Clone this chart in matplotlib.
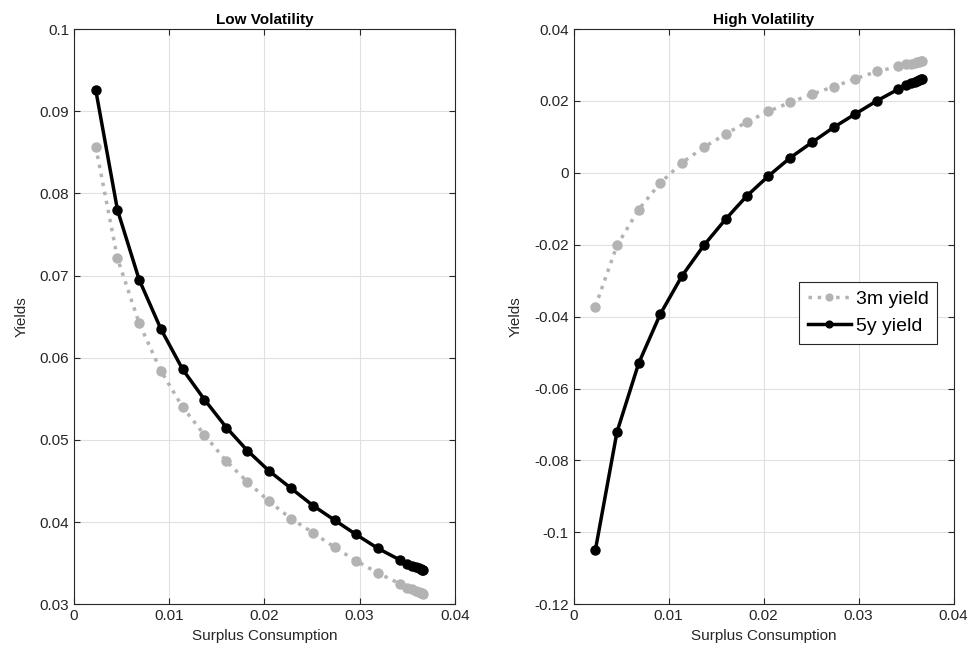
import matplotlib
matplotlib.use("Agg")
import matplotlib.pyplot as plt

plt.rcParams["font.family"] = ["Liberation Sans", "DejaVu Sans"]

# surplus consumption grid
surplus = [0.00228, 0.00456, 0.00684, 0.00912, 0.0114, 0.0137, 0.0160, 0.0182,
           0.0205, 0.0228, 0.0251, 0.0274, 0.0296, 0.0319, 0.0342,
           0.0350, 0.0355, 0.0359, 0.0362, 0.0364, 0.0366, 0.0367]

# low volatility
low_3m = [0.0857, 0.0721, 0.0642, 0.0584, 0.0540, 0.0506, 0.0474, 0.0449,
          0.0425, 0.0404, 0.0387, 0.0369, 0.0353, 0.0338, 0.0325,
          0.0320, 0.0318, 0.0316, 0.0315, 0.0314, 0.0313, 0.0312]
low_5y = [0.0926, 0.0780, 0.0695, 0.0635, 0.0586, 0.0549, 0.0515, 0.0487,
          0.0462, 0.0441, 0.0420, 0.0402, 0.0385, 0.0368, 0.0354,
          0.0349, 0.0347, 0.0345, 0.0344, 0.0343, 0.0342, 0.0341]

# high volatility
high_3m = [-0.0372, -0.0202, -0.0102, -0.0028, 0.0028, 0.0071, 0.0108, 0.0141,
           0.0171, 0.0196, 0.0219, 0.0240, 0.0261, 0.0282, 0.0296,
           0.0302, 0.0304, 0.0306, 0.0308, 0.0309, 0.0310, 0.0311]
high_5y = [-0.1050, -0.0721, -0.0530, -0.0393, -0.0287, -0.0202, -0.0129, -0.0065,
           -0.0009, 0.0042, 0.0085, 0.0127, 0.0163, 0.0200, 0.0233,
           0.0245, 0.0249, 0.0253, 0.0256, 0.0258, 0.0260, 0.0261]

xticks = [0, 0.01, 0.02, 0.03, 0.04]
xlabels = ["0", "0.01", "0.02", "0.03", "0.04"]
low_yticks = [0.03, 0.04, 0.05, 0.06, 0.07, 0.08, 0.09, 0.1]
low_ylabels = ["0.03", "0.04", "0.05", "0.06", "0.07", "0.08", "0.09", "0.1"]
high_yticks = [-0.12, -0.1, -0.08, -0.06, -0.04, -0.02, 0, 0.02, 0.04]
high_ylabels = ["-0.12", "-0.1", "-0.08", "-0.06", "-0.04", "-0.02", "0", "0.02", "0.04"]

GRAY = "#b3b3b3"
AXCOL = "#262626"

fig = plt.figure(figsize=(9.74, 6.61), dpi=100)
ax1 = fig.add_axes([0.076, 0.086, 0.391, 0.870])
ax2 = fig.add_axes([0.589, 0.086, 0.390, 0.870])


def style(ax):
    ax.grid(True, color="#e0e0e0", linewidth=0.8)
    ax.set_axisbelow(True)
    for s in ax.spines.values():
        s.set_color(AXCOL)
        s.set_linewidth(0.8)
    ax.tick_params(direction="in", top=True, right=True, colors=AXCOL,
                   labelsize=11, length=4, width=0.8)
    ax.set_xlim(0, 0.04)
    ax.set_xticks(xticks)
    ax.set_xticklabels(xlabels)
    ax.set_xlabel("Surplus Consumption", fontsize=11, color=AXCOL)
    ax.set_ylabel("Yields", fontsize=11, color=AXCOL, labelpad=8)


for ax, y3, y5 in [(ax1, low_3m, low_5y), (ax2, high_3m, high_5y)]:
    ax.plot(surplus, y3, linestyle=":", color=GRAY, linewidth=2.5,
            marker="o", markersize=6.5, label="3m yield")
    ax.plot(surplus, y5, linestyle="-", color="black", linewidth=2.5,
            marker="o", markersize=6.5, label="5y yield")
    style(ax)

ax1.set_ylim(0.03, 0.1)
ax1.set_yticks(low_yticks)
ax1.set_yticklabels(low_ylabels)
ax1.set_title("Low Volatility", fontsize=11, fontweight="bold", pad=4)

ax2.set_ylim(-0.12, 0.04)
ax2.set_yticks(high_yticks)
ax2.set_yticklabels(high_ylabels)
ax2.set_title("High Volatility", fontsize=11, fontweight="bold", pad=4)

leg = ax2.legend(loc="upper right", bbox_to_anchor=(0.957, 0.561), fontsize=14,
                 fancybox=False, framealpha=1, edgecolor=AXCOL, markerscale=0.75,
                 handlelength=2.2, handletextpad=0.25, borderpad=0.45,
                 labelspacing=0.5, borderaxespad=0)
leg.get_frame().set_linewidth(0.8)

fig.savefig("out.png", dpi=100)
